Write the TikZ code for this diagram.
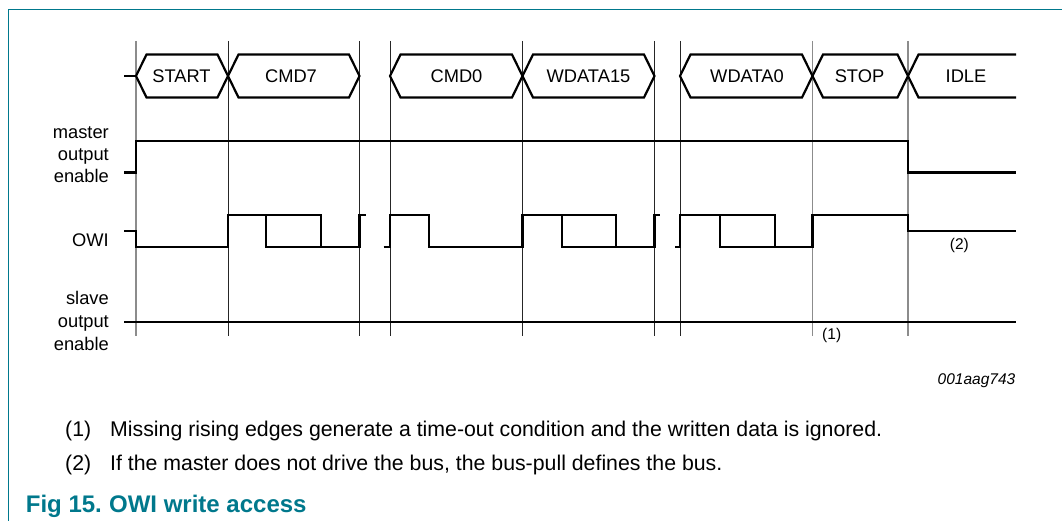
\documentclass[tikz,border=0pt]{standalone}
\usepackage{fontspec}
\setmainfont{Liberation Sans}
\definecolor{nxpteal}{RGB}{0,120,140}
\begin{document}
\begin{tikzpicture}[x=1pt,y=-1pt,
  sig/.style={line width=2.2pt,line join=miter},
  gridline/.style={line width=0.9pt,black!85},
  gridgray/.style={line width=1.3pt,black!45},
  frame/.style={line width=1.4pt,nxpteal},
  buslbl/.style={inner sep=0pt,font=\fontsize{18.3}{22}\selectfont},
  sidelbl/.style={inner sep=0pt,anchor=base east,font=\fontsize{18.3}{22}\selectfont},
  smalllbl/.style={inner sep=0pt,anchor=base,font=\fontsize{15.5}{18}\selectfont},
  notelbl/.style={inner sep=0pt,anchor=base west,font=\fontsize{21.3}{25}\selectfont},
  figtitle/.style={inner sep=0pt,anchor=base west,text=nxpteal,font=\fontsize{24}{28}\selectfont\bfseries}]
\useasboundingbox (0,0) rectangle (1062,521);
% frame
\draw[frame] (8.7,521) -- (8.7,9.7) -- (1062,9.7);
% vertical time marks
\foreach \x in {228,359.5,390,522.5,654.5,680}
  \draw[gridline] (\x,41) -- (\x,336);
\foreach \x in {136,812.5,908}
  \draw[gridgray] (\x,41) -- (\x,336);
% bus row
\def\s{10.5}
\draw[sig] (124,76) -- (136,76);
\draw[sig] (136,76) -- (136+\s,54.5) -- (228-\s,54.5) -- (228,76) -- (228-\s,97.5) -- (136+\s,97.5) -- cycle;
\draw[sig] (228,76) -- (228+\s,54.5) -- (359.5-\s,54.5) -- (359.5,76) -- (359.5-\s,97.5) -- (228+\s,97.5) -- cycle;
\draw[sig] (390,76) -- (390+\s,54.5) -- (522.5-\s,54.5) -- (522.5,76) -- (522.5-\s,97.5) -- (390+\s,97.5) -- cycle;
\draw[sig] (522.5,76) -- (522.5+\s,54.5) -- (654.5-\s,54.5) -- (654.5,76) -- (654.5-\s,97.5) -- (522.5+\s,97.5) -- cycle;
\draw[sig] (680,76) -- (680+\s,54.5) -- (812.5-\s,54.5) -- (812.5,76) -- (812.5-\s,97.5) -- (680+\s,97.5) -- cycle;
\draw[sig] (812.5,76) -- (812.5+\s,54.5) -- (908-\s,54.5) -- (908,76) -- (908-\s,97.5) -- (812.5+\s,97.5) -- cycle;
\draw[sig] (1016,54.5) -- (908+\s,54.5) -- (908,76) -- (908+\s,97.5) -- (1016,97.5);
\node[buslbl] (start) at (181.5,76) {START};
\node[buslbl] (cmd7) at (291,76) {CMD7};
\node[buslbl] (cmd0) at (456.5,76) {CMD0};
\node[buslbl] (wd15) at (588.5,76) {WDATA15};
\node[buslbl] (wd0) at (747,76) {WDATA0};
\node[buslbl] (stop) at (859.5,76) {STOP};
\node[buslbl] (idle) at (966,76) {IDLE};
% master output enable
\draw[sig] (124,172.5) -- (136,172.5) -- (136,141) -- (908,141) -- (908,172.5) -- (1016,172.5);
\node[sidelbl] (m1) at (109,138.5) {master};
\node[sidelbl] (m2) at (109,160.5) {output};
\node[sidelbl] (m3) at (109,182.5) {enable};
% OWI
\def\hi{214.7}
\def\lo{247}
\draw[sig] (124,231) -- (136,231) -- (136,\lo) -- (228,\lo) -- (228,\hi) -- (321.3,\hi) -- (321.3,\lo) -- (359.5,\lo) -- (359.5,\hi) -- (366,\hi);
\draw[sig] (266.3,\hi) -- (266.3,\lo) -- (321.3,\lo);
\draw[sig] (383.5,\lo) -- (390,\lo) -- (390,\hi) -- (429,\hi) -- (429,\lo) -- (522.5,\lo) -- (522.5,\hi) -- (615.7,\hi) -- (615.7,\lo) -- (654.5,\lo) -- (654.5,\hi) -- (659.5,\hi);
\draw[sig] (561.7,\hi) -- (561.7,\lo) -- (615.7,\lo);
\draw[sig] (675,\lo) -- (680,\lo) -- (680,\hi) -- (775,\hi) -- (775,\lo) -- (812.5,\lo) -- (812.5,\hi) -- (908,\hi) -- (908,231) -- (1016,231);
\draw[sig] (720,\hi) -- (720,\lo) -- (775,\lo);
\node[sidelbl] (owi) at (109,246.7) {OWI};
\node[smalllbl] (n2) at (959.3,249.8) {(2)};
% slave output enable
\draw[sig] (124,321.7) -- (1016,321.7);
\node[sidelbl] (s1) at (109,304) {slave};
\node[sidelbl] (s2) at (109,327) {output};
\node[sidelbl] (s3) at (109,350) {enable};
\node[smalllbl] (n1) at (831.7,339) {(1)};
% figure id
\node[inner sep=0pt,anchor=base east,font=\fontsize{15.5}{18}\selectfont\itshape] (fid) at (1015.5,384.3) {001aag743};
% notes
\node[notelbl] (f1n) at (65,436.7) {(1)};
\node[notelbl] (f1t) at (110,436.7) {Missing rising edges generate a time-out condition and the written data is ignored.};
\node[notelbl] (f2n) at (65,470.7) {(2)};
\node[notelbl] (f2t) at (110,470.7) {If the master does not drive the bus, the bus-pull defines the bus.};
\node[figtitle] (title) at (25.7,512.7) {Fig 15.\hspace{0.3em}OWI write access};
\end{tikzpicture}
\end{document}
